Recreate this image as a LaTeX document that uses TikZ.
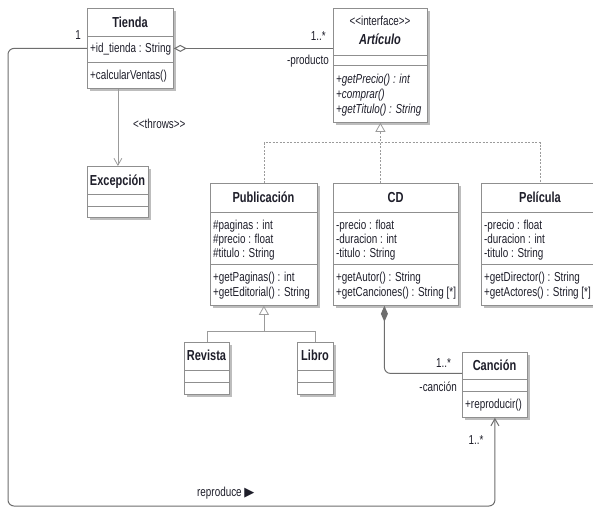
\documentclass[tikz,border=0pt]{standalone}
\usepackage{fontspec}
\setmainfont{Liberation Sans}[FakeStretch=0.76]
\newfontfamily\symfont{DejaVu Sans}
\usetikzlibrary{arrows.meta,shadows}
\definecolor{txt}{HTML}{1E1E2A}
\definecolor{lnk}{HTML}{6E6E6E}
\definecolor{gln}{HTML}{9B9B9B}
\definecolor{frm}{HTML}{8F8F8F}
\definecolor{shd}{HTML}{BDBDBD}
\tikzset{
  cls/.style={draw=frm, fill=white, line width=0.8pt, inner sep=0pt, anchor=north west,
    drop shadow={shadow xshift=2.5pt, shadow yshift=-2.5pt, fill=shd, opacity=1}},
  sepl/.style={draw=frm, line width=0.8pt},
  ttl/.style={font=\fontsize{14.5}{16}\selectfont\bfseries, text=txt, anchor=base, inner sep=0pt},
  ttli/.style={ttl, font=\fontsize{14.5}{16}\selectfont\bfseries\itshape},
  memb/.style={font=\fontsize{13}{15}\selectfont, text=txt, anchor=base west, inner sep=0pt},
  membi/.style={memb, font=\fontsize{13}{15}\selectfont\itshape},
  lbl/.style={font=\fontsize{13}{15}\selectfont, text=txt, inner sep=0pt},
  assoc/.style={draw=lnk, line width=1pt},
  gen/.style={draw=gln, line width=0.8pt},
  real/.style={gen, dash pattern=on 2pt off 1.5pt},
  gentip/.tip={Triangle[open, length=9pt, width=10pt]},
  opentip/.tip={Straight Barb[length=7pt, width=8pt]},
}
\begin{document}
\begin{tikzpicture}[x=1pt, y=-1pt]
  \clip (0,0) rectangle (593,509);
  \fill[white] (0,0) rectangle (593,509);

  % Tienda
  \node[cls, minimum width=86pt, minimum height=80pt] (tienda) at (87,8) {};
  \draw[sepl] (87,36) -- (173,36);
  \draw[sepl] (87,62) -- (173,62);
  \node[ttl] (tienda-n) at (130,27) {Tienda};
  \node[memb] (tienda-a1) at (90,52.5) {+id\_tienda : String};
  \node[memb] (tienda-m1) at (90,79.5) {+calcularVentas()};

  % Articulo
  \node[cls, minimum width=94pt, minimum height=114pt] (articulo) at (333,8) {};
  \draw[sepl] (333,55) -- (427,55);
  \draw[sepl] (333,65) -- (427,65);
  \node[lbl, anchor=base] (articulo-s) at (380,25) {<{}<interface>{}>};
  \node[ttli] (articulo-n) at (380,44) {Artículo};
  \node[membi] (articulo-m1) at (336,83.5) {+getPrecio() : int};
  \node[membi] (articulo-m2) at (336,98.5) {+comprar()};
  \node[membi] (articulo-m3) at (336,113.5) {+getTitulo() : String};

  % Excepcion
  \node[cls, minimum width=61pt, minimum height=51pt] (excepcion) at (87,166) {};
  \draw[sepl] (87,194) -- (148,194);
  \draw[sepl] (87,206) -- (148,206);
  \node[ttl] (excepcion-n) at (117.5,185) {Excepción};

  % Publicacion
  \node[cls, minimum width=107pt, minimum height=122pt] (publicacion) at (210,183) {};
  \draw[sepl] (210,212) -- (317,212);
  \draw[sepl] (210,264) -- (317,264);
  \node[ttl] (publicacion-n) at (263.5,202) {Publicación};
  \node[memb] (publicacion-a1) at (213,229.5) {\#paginas : int};
  \node[memb] (publicacion-a2) at (213,243.5) {\#precio : float};
  \node[memb] (publicacion-a3) at (213,257.5) {\#titulo : String};
  \node[memb] (publicacion-m1) at (213,281.5) {+getPaginas() : int};
  \node[memb] (publicacion-m2) at (213,296.5) {+getEditorial() : String};

  % CD
  \node[cls, minimum width=125pt, minimum height=122pt] (cd) at (333,183) {};
  \draw[sepl] (333,212) -- (458,212);
  \draw[sepl] (333,264) -- (458,264);
  \node[ttl] (cd-n) at (395.5,202) {CD};
  \node[memb] (cd-a1) at (336,229.5) {-precio : float};
  \node[memb] (cd-a2) at (336,243.5) {-duracion : int};
  \node[memb] (cd-a3) at (336,257.5) {-titulo : String};
  \node[memb] (cd-m1) at (336,281.5) {+getAutor() : String};
  \node[memb] (cd-m2) at (336,296.5) {+getCanciones() : String [*]};

  % Pelicula
  \node[cls, minimum width=118pt, minimum height=122pt] (pelicula) at (481,183) {};
  \draw[sepl] (481,212) -- (599,212);
  \draw[sepl] (481,264) -- (599,264);
  \node[ttl] (pelicula-n) at (540,202) {Película};
  \node[memb] (pelicula-a1) at (484,229.5) {-precio : float};
  \node[memb] (pelicula-a2) at (484,243.5) {-duracion : int};
  \node[memb] (pelicula-a3) at (484,257.5) {-titulo : String};
  \node[memb] (pelicula-m1) at (484,281.5) {+getDirector() : String};
  \node[memb] (pelicula-m2) at (484,296.5) {+getActores() : String [*]};

  % Revista, Libro
  \node[cls, minimum width=45pt, minimum height=52pt] (revista) at (184,342) {};
  \draw[sepl] (184,370) -- (229,370);
  \draw[sepl] (184,382) -- (229,382);
  \node[ttl] (revista-n) at (206.5,360) {Revista};
  \node[cls, minimum width=36pt, minimum height=52pt] (libro) at (297,342) {};
  \draw[sepl] (297,370) -- (333,370);
  \draw[sepl] (297,382) -- (333,382);
  \node[ttl] (libro-n) at (315,360) {Libro};

  % Cancion
  \node[cls, minimum width=65pt, minimum height=65pt] (cancion) at (462,352) {};
  \draw[sepl] (462,379) -- (527,379);
  \draw[sepl] (462,391) -- (527,391);
  \node[ttl] (cancion-n) at (494.5,370) {Canción};
  \node[memb] (cancion-m1) at (465,408.5) {+reproducir()};

  % Tienda - Articulo
  \draw[assoc, {Diamond[open, length=13pt, width=7pt]}-] (tienda.east) -- (tienda.east -| articulo.west);
  \node[lbl, anchor=base east] (agg-m) at (326,40) {1..*};
  \node[lbl, anchor=base east] (agg-r) at (329,64) {-producto};

  % throws
  \draw[gen, -{opentip}] (tienda.south -| excepcion.north) -- (excepcion.north);
  \node[lbl, anchor=base west] (dep-s) at (133,128) {<{}<throws>{}>};

  % realizations
  \coordinate (rj) at ([yshift=-20pt]articulo.south);
  \draw[real, -{gentip}] (cd.north -| articulo.south) -- (articulo.south);
  \draw[real] (publicacion.north) |- (rj) -| (pelicula.north);

  % Publicacion subclasses
  \coordinate (pj) at ([yshift=-26pt]publicacion.south);
  \draw[gen, -{gentip}] (pj) -- (publicacion.south);
  \draw[gen] (revista.north) |- (pj) -| (libro.north);

  % CD - Cancion
  \draw[assoc, {Diamond[length=16pt, width=7pt]}-, rounded corners=6pt] ([xshift=-11.5pt]cd.south) |- ([yshift=11.5pt]cancion.west);
  \node[lbl, anchor=base] (comp-m) at (443.5,367) {1..*};
  \node[lbl, anchor=base east] (comp-r) at (457,391) {-canción};

  % reproduce
  \coordinate (rc) at (8,506);
  \draw[assoc, -{opentip}, rounded corners=6pt] (tienda.west) -| (rc) -| (cancion.south);
  \node[lbl, anchor=base] (rep-1) at (78,39) {1};
  \node[lbl, anchor=base] (rep-m) at (476,444) {1..*};
  \node[lbl, anchor=base west] (rep-n) at (197,496) {reproduce {\symfont ▶}};
\end{tikzpicture}
\end{document}
